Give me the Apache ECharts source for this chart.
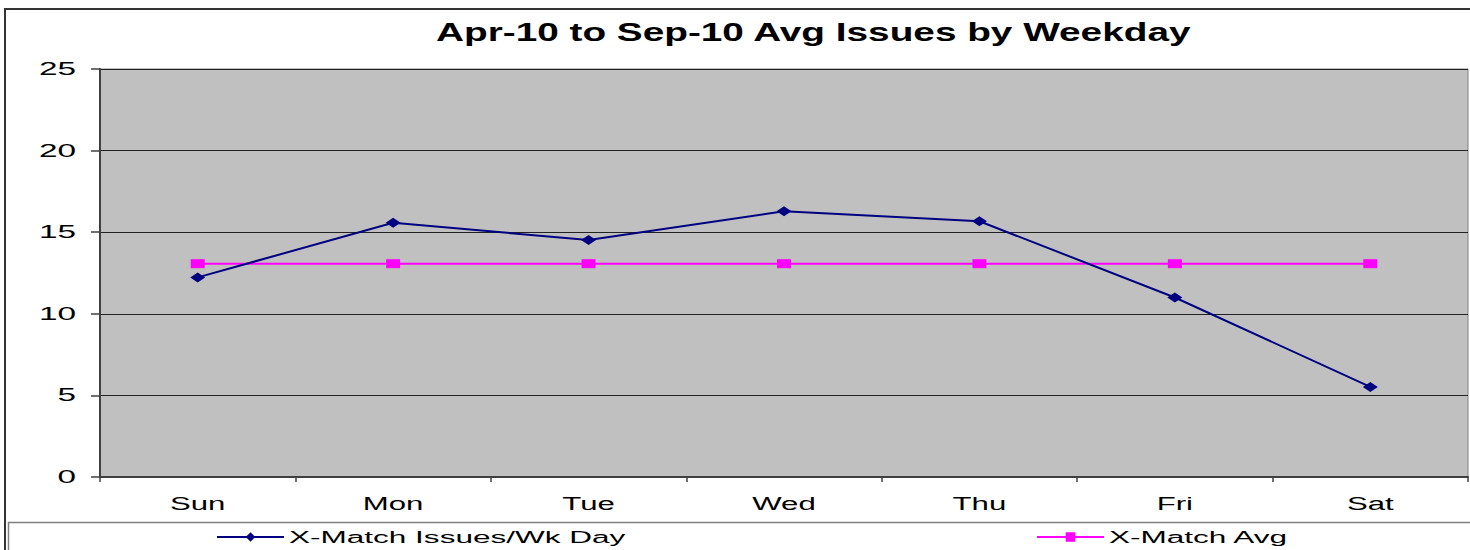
<!DOCTYPE html>
<html>
<head>
<meta charset="utf-8">
<script src="https://cdn.jsdelivr.net/npm/echarts@6/dist/echarts.min.js"></script>
<style>
html,body{margin:0;padding:0;background:#fff;}
#chart{width:1470px;height:550px;}
</style>
</head>
<body>
<div id="chart"></div>
<script>
const categories = ['Sun', 'Mon', 'Tue', 'Wed', 'Thu', 'Fri', 'Sat'];
const issuesPerDay = [12.23, 15.58, 14.52, 16.28, 15.67, 11.0, 5.52];
const avgValues = [13.07, 13.07, 13.07, 13.07, 13.07, 13.07, 13.07];
const seriesNames = ['X-Match Issues/Wk Day', 'X-Match Avg'];
const yTicks = [0, 5, 10, 15, 20, 25];
const titleText = 'Apr-10 to Sep-10 Avg Issues by Weekday';

const FONT = '"Liberation Sans", Arial, sans-serif';
const chart = echarts.init(document.getElementById('chart'), null, {renderer: 'svg'});

chart.setOption({
  animation: false,
  backgroundColor: '#ffffff',
  title: {
    text: titleText,
    left: 436,
    top: 19,
    padding: 0,
    textStyle: {fontFamily: FONT, fontSize: 25, fontWeight: 'bold', color: '#000'}
  },
  graphic: [
    {type: 'rect', shape: {x: 5, y: 9, width: 1480, height: 560}, style: {fill: 'none', stroke: '#333', lineWidth: 2}, z: 0},
    {type: 'rect', shape: {x: 8.5, y: 522.5, width: 1480, height: 60}, style: {fill: '#fff', stroke: '#808080', lineWidth: 1.5}, z: 0}
  ],
  legend: [
    {
      data: [seriesNames[0]], left: 216, top: 529, padding: 0, itemWidth: 67, itemHeight: 12,
      textStyle: {fontFamily: FONT, fontSize: 16, color: '#000'}
    },
    {
      data: [seriesNames[1]], left: 1036, top: 529, padding: 0, itemWidth: 67, itemHeight: 12,
      textStyle: {fontFamily: FONT, fontSize: 16, color: '#000'}
    }
  ],
  grid: {
    left: 100, right: 2, top: 69, bottom: 73,
    show: true, backgroundColor: '#C0C0C0', borderColor: '#808080', borderWidth: 1
  },
  xAxis: {
    type: 'category',
    data: categories,
    boundaryGap: true,
    axisLine: {show: true, lineStyle: {color: '#404040', width: 2}},
    axisTick: {show: true, length: 5, lineStyle: {color: '#404040', width: 1.5}},
    axisLabel: {fontFamily: FONT, fontSize: 18, color: '#000', margin: 18},
    splitLine: {show: false}
  },
  yAxis: {
    type: 'value',
    min: 0, max: 25, interval: 5,
    axisLine: {show: true, lineStyle: {color: '#404040', width: 2}},
    axisTick: {show: true, length: 9, lineStyle: {color: '#404040', width: 1.5}},
    axisLabel: {fontFamily: FONT, fontSize: 18, color: '#000', margin: 24,
      formatter: v => yTicks.includes(v) ? String(v) : ''},
    splitLine: {show: true, lineStyle: {color: '#222', width: 1}}
  },
  series: [
    {
      name: seriesNames[0], type: 'line', data: issuesPerDay,
      symbol: 'diamond', symbolSize: [15, 10],
      lineStyle: {color: '#000080', width: 2},
      itemStyle: {color: '#000080'},
      z: 3
    },
    {
      name: seriesNames[1], type: 'line', data: avgValues,
      symbol: 'rect', symbolSize: [14, 9],
      lineStyle: {color: '#FF00FF', width: 2},
      itemStyle: {color: '#FF00FF'},
      z: 2
    }
  ]
});

// The reference rendering has horizontally widened lettering; widen the SVG text to match.
function widenText() {
  const texts = document.querySelectorAll('#chart svg text');
  texts.forEach(t => {
    const s = (t.textContent || '').trim();
    let k = 1;
    if (s === titleText) k = 1.55;
    else if (categories.includes(s)) k = 1.73;
    else if (seriesNames.includes(s)) k = 1.97;
    else if (/^\d+$/.test(s)) k = 1.85;
    if (k === 1) return;
    t.removeAttribute('textLength');
    t.removeAttribute('lengthAdjust');
    const w = t.getComputedTextLength();
    if (w > 0) {
      t.setAttribute('textLength', (w * k).toFixed(1));
      t.setAttribute('lengthAdjust', 'spacingAndGlyphs');
    }
  });
}
widenText();
chart.on('finished', widenText);
</script>
</body>
</html>
